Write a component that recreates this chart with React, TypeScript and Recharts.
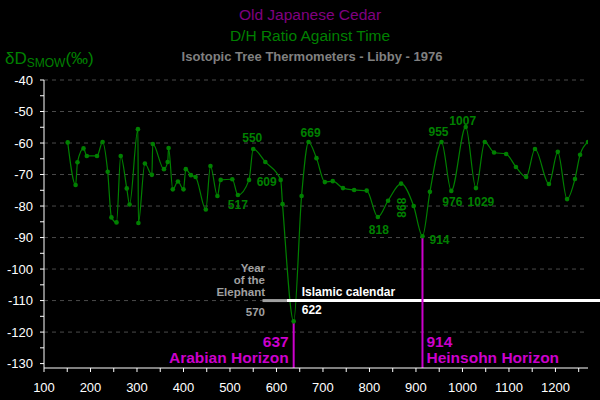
import React from "react";
import {
  LineChart, Line, XAxis, YAxis, ReferenceLine, ReferenceDot, LabelList,
} from "recharts";

// Old Japanese Cedar, δD (‰ SMOW) by year AD
const years = [
  151, 168, 172, 185, 192, 214, 226, 237, 245, 256, 265, 278, 284, 302, 303,
  317, 332, 334, 358, 366, 368, 377, 388, 400, 405, 416, 426, 448, 458, 473,
  480, 505, 517, 541, 550, 576, 609, 613, 637, 654, 669, 686, 704, 721, 743,
  767, 794, 818, 840, 868, 895, 914, 930, 955, 976, 1007, 1029, 1048, 1068, 1094,
  1115, 1137, 1156, 1186, 1205, 1225, 1242, 1253, 1270,
];
const deltaD = [
  -59.8, -73.3, -66.1, -61.7, -64.1, -64.1, -59.7, -69.1, -83.6, -85.2, -64.1, -74.4, -79.5, -55.6, -85.4,
  -66.5, -70.1, -60.3, -68.3, -66.0, -61.6, -74.7, -72.2, -74.7, -68.3, -70.2, -70.8, -81.1, -67.3, -76.8,
  -71.7, -71.5, -76.5, -71.7, -61.9, -66.0, -71.7, -79.4, -116.6, -76.8, -59.7, -64.8, -72.4, -72.1, -74.3,
  -74.9, -75.1, -83.5, -78.3, -72.9, -80.0, -89.6, -75.5, -59.7, -75.2, -54.9, -74.3, -59.7, -63.0, -63.5,
  -67.6, -70.8, -61.9, -73.0, -62.8, -77.8, -71.4, -63.7, -59.7,
];
const labeledYears = [517, 550, 609, 669, 818, 868, 914, 955, 976, 1007, 1029];

const xTicks = [100, 150, 200, 250, 300, 350, 400, 450, 500, 550, 600, 650, 700, 750, 800, 850, 900, 950, 1000, 1050, 1100, 1150, 1200, 1250];
const yTicks = [-40, -45, -50, -55, -60, -65, -70, -75, -80, -85, -90, -95, -100, -105, -110, -115, -120, -125, -130];
const gridValues = [-40, -50, -60, -70, -80, -90, -100, -110, -120];

const elephantYear = 570;
const hijraYear = 622;
const calendarLevel = -110;
const arabianHorizon = { year: 637, value: -116.6 };
const heinsohnHorizon = { year: 914, value: -89.6 };

const data = years.map((y, i) => ({
  year: y,
  d: deltaD[i],
  tag: labeledYears.includes(y) ? String(y) : undefined,
}));

const FONT = "Arial, 'Liberation Sans', sans-serif";
const GREEN = "#008000";
const MAGENTA = "#cc00cc";
const Y_MIN = -131.4;

// where each point label sits relative to its dot
const labelPos: Record<string, { dx: number; dy: number; anchor: string; rotate?: boolean }> = {
  "517": { dx: 0, dy: 14, anchor: "middle" },
  "550": { dx: -1, dy: -7, anchor: "middle" },
  "609": { dx: -4, dy: 6, anchor: "end" },
  "669": { dx: 2, dy: -5, anchor: "middle" },
  "818": { dx: 1, dy: 17, anchor: "middle" },
  "868": { dx: 4.5, dy: 24, anchor: "middle", rotate: true },
  "914": { dx: 7, dy: 8, anchor: "start" },
  "955": { dx: -3, dy: -6, anchor: "middle" },
  "976": { dx: 1, dy: 15, anchor: "middle" },
  "1007": { dx: -3, dy: -2, anchor: "middle" },
  "1029": { dx: 5, dy: 18, anchor: "middle" },
};

function PointLabel(props: any) {
  const { x, y, value } = props;
  if (!value) return null;
  const p = labelPos[value];
  if (!p) return null;
  const tx = x + p.dx;
  const ty = y + p.dy;
  return (
    <text
      x={tx} y={ty} textAnchor={p.anchor}
      transform={p.rotate ? `rotate(-90, ${tx}, ${ty})` : undefined}
      fill={GREEN} fontSize={12} fontWeight="bold" fontFamily={FONT}
    >
      {value}
    </text>
  );
}

export default function App() {
  return (
    <div style={{ position: "relative", width: 600, height: 400, background: "#000", fontFamily: FONT, overflow: "hidden" }}>
      <style>{`body{margin:0;background:#000}`}</style>
      <div style={{ position: "absolute", top: 6, left: 310, transform: "translateX(-50%)", color: "#800080", fontSize: 15.5, whiteSpace: "nowrap" }}>
        Old Japanese Cedar
      </div>
      <div style={{ position: "absolute", top: 27, left: 310, transform: "translateX(-50%)", color: GREEN, fontSize: 15.5, whiteSpace: "nowrap" }}>
        D/H Ratio Against Time
      </div>
      <div style={{ position: "absolute", top: 49, left: 312, transform: "translateX(-50%)", color: "#808080", fontSize: 13, fontWeight: "bold", whiteSpace: "nowrap" }}>
        Isotopic Tree Thermometers - Libby - 1976
      </div>
      <div style={{ position: "absolute", top: 49, left: 5, color: GREEN, fontSize: 17, whiteSpace: "nowrap" }}>
        δD<span style={{ fontSize: 12, position: "relative", top: 3 }}>SMOW</span>(‰)
      </div>

      <LineChart
        width={600} height={400} data={data}
        margin={{ top: 80, right: 12, left: 0, bottom: 0 }}
        style={{ position: "absolute", left: 0, top: 0 }}
      >
        {gridValues.map((v) => (
          <ReferenceLine key={v} y={v} stroke="#4a4a4a" strokeDasharray="4 4" />
        ))}
        <XAxis
          dataKey="year" type="number" domain={[100, 1270]} ticks={xTicks}
          tickFormatter={(v: number) => (v % 100 === 0 ? String(v) : "")}
          stroke="#fff" tickSize={4} tickMargin={11} height={32}
          tick={{ fill: "#fff", fontSize: 13, fontFamily: FONT }}
          allowDataOverflow
        />
        <YAxis
          type="number" domain={[Y_MIN, -40]} ticks={yTicks}
          tickFormatter={(v: number) => (v % 10 === 0 ? String(v) : "")}
          stroke="#fff" tickSize={4} tickMargin={7} width={44}
          tick={{ fill: "#fff", fontSize: 13, fontFamily: FONT }}
          allowDataOverflow
        />
        <Line
          type="monotone" dataKey="d" stroke={GREEN} strokeWidth={1.2}
          dot={{ r: 2.3, fill: GREEN, stroke: "none" }}
          isAnimationActive={false}
        >
          <LabelList dataKey="tag" content={PointLabel} />
        </Line>

        <ReferenceLine
          segment={[{ x: elephantYear, y: calendarLevel }, { x: hijraYear, y: calendarLevel }]}
          stroke="#a0a0a0" strokeWidth={3}
        />
        <ReferenceLine
          segment={[{ x: hijraYear, y: calendarLevel }, { x: 1300, y: calendarLevel }]}
          stroke="#fff" strokeWidth={3} ifOverflow="visible"
        />
        <ReferenceLine
          segment={[{ x: arabianHorizon.year, y: arabianHorizon.value }, { x: arabianHorizon.year, y: Y_MIN }]}
          stroke={MAGENTA} strokeWidth={2}
        />
        <ReferenceLine
          segment={[{ x: heinsohnHorizon.year, y: heinsohnHorizon.value }, { x: heinsohnHorizon.year, y: Y_MIN }]}
          stroke={MAGENTA} strokeWidth={2}
        />

        <ReferenceDot
          x={elephantYear} y={calendarLevel} r={0}
          shape={(p: any) => (
            <g fontFamily={FONT} fontWeight="bold" fontSize={11.5} textAnchor="end" fill="#a0a0a0">
              <text x={p.cx + 2.5} y={p.cy - 29}>Year</text>
              <text x={p.cx + 2.5} y={p.cy - 17}>of the</text>
              <text x={p.cx + 2.5} y={p.cy - 5}>Elephant</text>
              <text x={p.cx + 2.5} y={p.cy + 15}>{elephantYear}</text>
            </g>
          )}
        />
        <ReferenceDot
          x={hijraYear} y={calendarLevel} r={0}
          shape={(p: any) => (
            <g fontFamily={FONT} fontWeight="bold" fontSize={12} fill="#fff">
              <text x={p.cx + 15} y={p.cy - 5}>Islamic calendar</text>
              <text x={p.cx + 15} y={p.cy + 13}>{hijraYear}</text>
            </g>
          )}
        />
        <ReferenceDot
          x={arabianHorizon.year} y={-130} r={0}
          shape={(p: any) => (
            <g fontFamily={FONT} fontWeight="bold" fontSize={15.5} fill={MAGENTA} textAnchor="end">
              <text x={p.cx - 5} y={p.cy - 16.5}>{arabianHorizon.year}</text>
              <text x={p.cx - 5} y={p.cy - 0.5}>Arabian Horizon</text>
            </g>
          )}
        />
        <ReferenceDot
          x={heinsohnHorizon.year} y={-130} r={0}
          shape={(p: any) => (
            <g fontFamily={FONT} fontWeight="bold" fontSize={15.5} fill={MAGENTA}>
              <text x={p.cx + 4} y={p.cy - 16.5}>{heinsohnHorizon.year}</text>
              <text x={p.cx + 4} y={p.cy - 0.5}>Heinsohn Horizon</text>
            </g>
          )}
        />
      </LineChart>
    </div>
  );
}
